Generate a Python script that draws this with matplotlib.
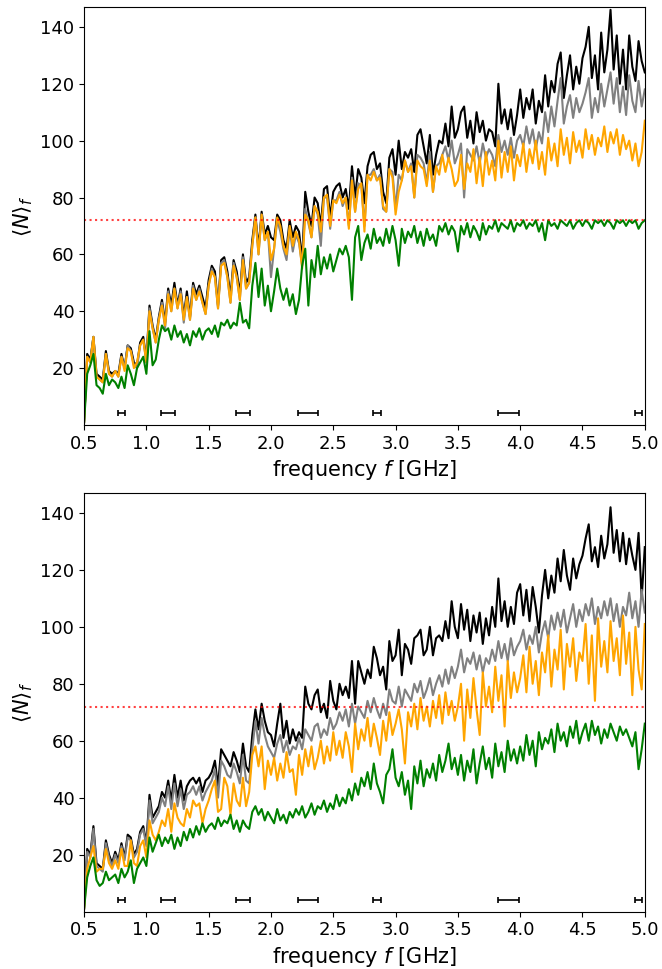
import numpy as np
import matplotlib
matplotlib.use("Agg")
import matplotlib.pyplot as plt

freq = np.round(np.arange(0.5, 5.0 + 1e-9, 0.025), 3)

# ---------------- top panel ----------------
top_black = [
    1, 25, 23, 31, 18, 17, 16, 26, 19, 18, 19, 18, 25, 20, 28, 27, 22, 21, 29, 31,
    23, 42, 35, 30, 38, 44, 36, 48, 42, 50, 42, 48, 38, 47, 38, 50, 46, 49, 45, 41,
    51, 56, 54, 42, 58, 59, 54, 45, 58, 54, 46, 60, 50, 52, 65, 74, 62, 75, 67, 70,
    66, 65, 74, 72, 65, 62, 72, 66, 70, 68, 58, 82, 75, 70, 80, 78, 70, 83, 84, 73,
    82, 84, 85, 80, 83, 76, 91, 80, 90, 87, 78, 91, 95, 96, 90, 92, 82, 78, 94, 97,
    88, 100, 90, 96, 94, 97, 89, 102, 104, 98, 92, 102, 88, 95, 100, 99, 106, 98, 112, 101,
    104, 110, 112, 101, 107, 99, 110, 103, 107, 100, 104, 103, 98, 120, 106, 111, 104, 111, 102, 109,
    118, 108, 115, 111, 118, 106, 114, 110, 123, 112, 121, 117, 127, 131, 115, 123, 130, 118, 126, 120,
    129, 133, 140, 122, 130, 118, 138, 124, 132, 146, 125, 137, 120, 132, 118, 137, 126, 121, 135, 128, 124,
]
top_gray = [
    1, 24, 22, 31, 17, 16, 15, 25, 18, 17, 19, 17, 24, 20, 28, 26, 21, 20, 28, 30,
    22, 41, 34, 29, 37, 43, 34, 47, 40, 48, 41, 47, 36, 45, 37, 49, 44, 48, 43, 39,
    49, 55, 52, 41, 57, 58, 52, 43, 57, 52, 44, 59, 48, 50, 63, 73, 60, 74, 65, 68,
    52, 62, 72, 68, 62, 58, 69, 61, 67, 64, 56, 76, 71, 66, 77, 74, 63, 80, 80, 69,
    79, 79, 82, 77, 80, 70, 87, 75, 85, 84, 70, 88, 88, 90, 86, 88, 76, 75, 90, 89,
    76, 88, 86, 93, 89, 92, 80, 95, 94, 92, 85, 96, 82, 91, 92, 95, 98, 93, 100, 92,
    95, 99, 80, 97, 95, 93, 98, 92, 99, 94, 97, 95, 91, 102, 96, 100, 95, 101, 94, 100,
    102, 98, 105, 99, 104, 97, 103, 99, 110, 103, 112, 105, 114, 122, 106, 112, 116, 108, 115, 110,
    113, 117, 122, 108, 115, 110, 120, 112, 118, 124, 113, 122, 110, 119, 109, 123, 114, 110, 121, 112, 118,
]
top_orange = [
    1, 24, 22, 31, 17, 16, 15, 25, 18, 17, 19, 17, 24, 19, 27, 26, 20, 22, 28, 30,
    22, 40, 34, 29, 37, 42, 35, 46, 40, 48, 41, 46, 37, 45, 37, 48, 44, 47, 43, 39,
    49, 54, 52, 41, 56, 57, 52, 43, 56, 52, 44, 58, 48, 50, 63, 73, 60, 74, 65, 68,
    58, 62, 73, 70, 63, 60, 70, 63, 68, 65, 55, 74, 72, 66, 77, 75, 68, 80, 81, 70,
    79, 78, 81, 78, 80, 69, 86, 75, 83, 85, 68, 88, 86, 89, 86, 87, 77, 75, 90, 87,
    74, 82, 86, 93, 89, 91, 80, 93, 91, 90, 84, 93, 82, 91, 88, 95, 89, 94, 90, 84,
    86, 95, 83, 92, 89, 97, 85, 94, 84, 96, 88, 93, 86, 100, 87, 96, 89, 98, 86, 95,
    91, 99, 89, 97, 92, 100, 90, 96, 88, 101, 93, 99, 91, 104, 95, 101, 92, 103, 96, 100,
    94, 104, 97, 102, 95, 101, 98, 105, 96, 103, 99, 104, 95, 102, 97, 100, 93, 99, 91, 96, 107,
]
top_green = [
    1, 18, 21, 25, 14, 13, 11, 18, 14, 16, 15, 13, 17, 13, 21, 18, 14, 20, 22, 24,
    18, 33, 21, 23, 30, 35, 33, 34, 30, 35, 31, 33, 29, 32, 28, 33, 31, 34, 30, 33,
    34, 32, 35, 31, 36, 35, 37, 34, 36, 35, 43, 36, 37, 34, 49, 57, 45, 55, 42, 49,
    40, 47, 55, 48, 44, 48, 42, 46, 39, 44, 56, 62, 42, 58, 52, 63, 53, 59, 55, 60,
    54, 58, 62, 60, 63, 59, 44, 66, 70, 58, 64, 67, 62, 69, 64, 66, 63, 69, 64, 70,
    65, 56, 69, 64, 68, 66, 70, 64, 68, 63, 69, 65, 67, 63, 70, 68, 71, 67, 70, 68,
    61, 70, 67, 71, 66, 70, 68, 65, 71, 67, 70, 69, 72, 68, 71, 70, 69, 72, 68, 71,
    70, 72, 69, 71, 70, 72, 68, 71, 65, 72, 70, 71, 69, 72, 71, 70, 72, 69, 71, 72,
    70, 72, 71, 69, 72, 71, 72, 70, 72, 71, 69, 72, 71, 72, 70, 72, 71, 72, 69, 71, 72,
]

# ---------------- bottom panel ----------------
bot_black = [
    1, 22, 20, 30, 17, 16, 15, 25, 20, 17, 21, 18, 24, 19, 27, 26, 20, 22, 28, 30,
    24, 41, 33, 35, 37, 42, 40, 46, 39, 48, 40, 46, 39, 44, 46, 47, 45, 47, 42, 46,
    47, 49, 53, 44, 57, 55, 53, 51, 56, 53, 49, 59, 51, 49, 62, 71, 64, 73, 67, 63,
    62, 58, 66, 73, 61, 67, 59, 64, 60, 63, 61, 79, 73, 71, 76, 78, 70, 73, 68, 81,
    74, 71, 80, 76, 79, 75, 88, 73, 88, 84, 80, 85, 82, 93, 89, 83, 86, 78, 95, 88,
    90, 99, 83, 94, 92, 87, 96, 97, 99, 90, 92, 100, 90, 96, 97, 95, 102, 96, 109, 100,
    96, 108, 99, 106, 95, 104, 98, 105, 94, 103, 97, 107, 100, 117, 102, 109, 100, 107, 101, 112,
    115, 104, 113, 102, 114, 107, 98, 111, 120, 110, 118, 112, 124, 116, 127, 118, 113, 124, 117, 122,
    125, 131, 136, 123, 128, 121, 132, 124, 129, 142, 126, 134, 123, 133, 122, 131, 125, 120, 133, 110, 128,
]
bot_gray = [
    1, 21, 19, 29, 16, 15, 14, 24, 19, 16, 20, 17, 23, 18, 26, 25, 19, 21, 27, 29,
    23, 39, 31, 33, 35, 40, 37, 44, 36, 45, 37, 43, 36, 41, 42, 44, 41, 44, 39, 42,
    44, 46, 50, 40, 53, 51, 48, 47, 52, 49, 45, 55, 46, 45, 57, 67, 59, 68, 62, 58,
    56, 54, 59, 62, 56, 60, 55, 58, 57, 61, 57, 64, 62, 60, 65, 66, 61, 64, 62, 68,
    64, 66, 70, 67, 71, 65, 73, 66, 72, 70, 68, 74, 70, 75, 71, 68, 73, 69, 78, 74,
    73, 79, 72, 78, 76, 74, 80, 77, 81, 75, 78, 82, 76, 80, 83, 79, 85, 80, 86, 82,
    86, 92, 84, 89, 87, 91, 85, 90, 84, 89, 87, 92, 88, 95, 89, 94, 88, 96, 90, 93,
    95, 99, 92, 97, 94, 100, 91, 98, 102, 96, 104, 99, 105, 100, 106, 98, 103, 108, 100, 106,
    102, 108, 104, 110, 101, 107, 103, 109, 104, 110, 102, 108, 100, 107, 104, 112, 103, 109, 100, 113, 105,
]
bot_orange = [
    1, 15, 19, 23, 14, 15, 15, 22, 17, 15, 18, 15, 22, 16, 16, 25, 17, 16, 23, 25,
    19, 32, 27, 25, 28, 32, 30, 36, 28, 38, 33, 31, 30, 36, 33, 39, 37, 38, 31, 36,
    39, 43, 46, 35, 36, 47, 44, 34, 45, 39, 37, 47, 37, 42, 55, 58, 51, 58, 43, 53,
    48, 54, 46, 52, 47, 56, 49, 50, 41, 55, 48, 57, 51, 58, 50, 54, 60, 52, 58, 53,
    63, 55, 60, 54, 63, 58, 49, 66, 57, 64, 60, 68, 58, 66, 61, 55, 67, 60, 70, 62,
    66, 71, 64, 52, 70, 65, 73, 64, 75, 67, 72, 65, 74, 68, 76, 66, 77, 69, 74, 67,
    72, 80, 60, 78, 68, 82, 71, 62, 84, 72, 79, 70, 86, 74, 83, 65, 88, 75, 84, 77,
    82, 90, 77, 93, 80, 88, 76, 91, 84, 97, 79, 92, 85, 99, 78, 94, 86, 96, 81, 91,
    88, 101, 80, 97, 74, 103, 86, 95, 84, 102, 88, 96, 83, 104, 87, 98, 76, 100, 85, 78, 101,
]
bot_green = [
    1, 12, 16, 19, 11, 9, 10, 14, 11, 12, 13, 10, 15, 12, 14, 18, 10, 15, 17, 19,
    16, 26, 21, 24, 27, 23, 26, 24, 27, 22, 26, 23, 28, 25, 29, 26, 30, 27, 31, 28,
    30, 31, 29, 33, 30, 32, 31, 34, 29, 32, 28, 32, 30, 29, 35, 37, 34, 36, 32, 35,
    33, 31, 36, 32, 34, 31, 35, 33, 36, 34, 37, 33, 35, 38, 34, 37, 36, 39, 35, 38,
    36, 41, 37, 40, 38, 43, 39, 45, 41, 47, 44, 49, 43, 52, 45, 42, 38, 48, 50, 57,
    47, 44, 49, 41, 46, 36, 51, 45, 53, 44, 50, 47, 52, 46, 55, 49, 53, 59, 50, 54,
    48, 55, 46, 53, 49, 57, 45, 52, 58, 50, 54, 47, 59, 51, 56, 49, 60, 53, 57, 52,
    58, 53, 62, 55, 60, 51, 63, 57, 61, 59, 64, 56, 66, 60, 63, 58, 65, 61, 67, 59,
    63, 66, 60, 67, 62, 65, 59, 64, 61, 66, 63, 60, 65, 62, 64, 61, 58, 63, 50, 57, 66,
]

# marker intervals (centre, half-width) near the bottom
band_centers = [0.80, 1.175, 1.776, 2.30, 2.85, 3.905, 4.95]
band_halfwidths = [0.027, 0.058, 0.055, 0.08, 0.03, 0.082, 0.03]
band_level = 4.2
threshold = 72

yticks = [20, 40, 60, 80, 100, 120, 140]
xticks = [0.5, 1.0, 1.5, 2.0, 2.5, 3.0, 3.5, 4.0, 4.5, 5.0]

fig = plt.figure(figsize=(6.62, 9.69), dpi=100)
ax1 = fig.add_axes([0.127, 0.5614, 0.847, 0.4314])
ax2 = fig.add_axes([0.127, 0.0593, 0.847, 0.4319])

panels = [
    (ax1, top_black, top_gray, top_orange, top_green),
    (ax2, bot_black, bot_gray, bot_orange, bot_green),
]
for ax, sb, sg, so, sgr in panels:
    ax.plot(freq, sb, color="black", lw=1.5)
    ax.plot(freq, sg, color="gray", lw=1.5)
    ax.plot(freq, so, color="orange", lw=1.5)
    ax.plot(freq, sgr, color="green", lw=1.5)
    ax.axhline(threshold, color="red", ls=":", lw=1.5, alpha=0.75)
    ax.errorbar(band_centers, [band_level] * len(band_centers),
                xerr=band_halfwidths, fmt="none", ecolor="black",
                elinewidth=1.2, capsize=2, capthick=1.2)
    ax.set_xlim(0.5, 5.0)
    ax.set_ylim(0, 147)
    ax.set_xticks(xticks)
    ax.set_yticks(yticks)
    ax.tick_params(labelsize=13)
    ax.set_xlabel(r"frequency $f$ [GHz]", fontsize=15)
    ax.set_ylabel(r"$\langle N\rangle_f$", fontsize=15)

fig.savefig("out.png", dpi=100)
